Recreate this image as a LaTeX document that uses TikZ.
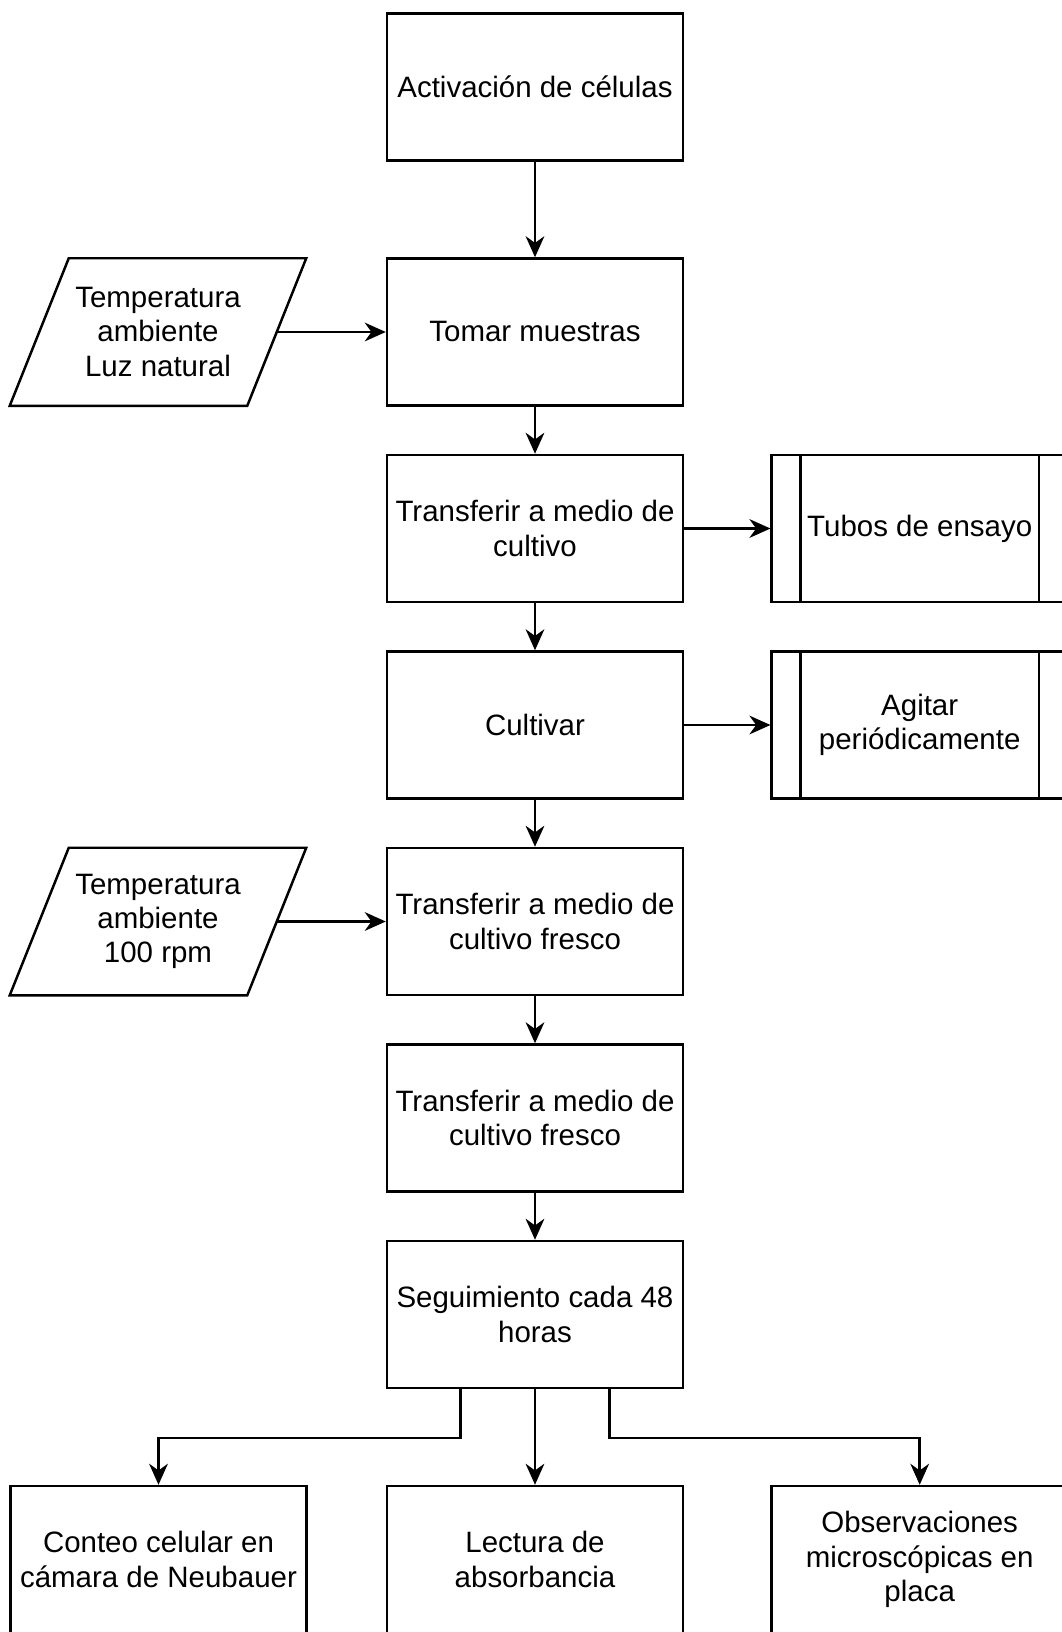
\documentclass[tikz,border=0pt]{standalone}
\usepackage{fontspec}
\setmainfont{Liberation Sans}
\usetikzlibrary{arrows.meta,calc}
\begin{document}
\begin{tikzpicture}[x=0.75pt,y=-0.75pt,
  every node/.style={font=\fontsize{22.1pt}{25.8pt}\selectfont, align=center, inner sep=0pt},
  box/.style={draw, line width=1.85pt, rectangle, minimum width=222pt, minimum height=110.25pt},
  iotext/.style={rectangle, minimum width=222pt, minimum height=110.25pt},
  arr/.style={line width=1.85pt, -{Stealth[length=15.75pt,width=14pt,inset=5pt]}},
  bar/.style={line width=1.85pt, line join=miter},
]
\useasboundingbox (0,0) rectangle (1061,1632);
\fill[white] (0,0) rectangle (1061,1632);

% main column
\node[box] (a) at (535,87) {Activación de células};
\node[box] (b) at (535,332) {Tomar muestras};
\node[box] (c) at (535,528.5) {Transferir a medio de\\cultivo};
\node[box] (d) at (535,725) {Cultivar};
\node[box] (e) at (535,921.5) {Transferir a medio de\\cultivo fresco};
\node[box] (f) at (535,1118) {Transferir a medio de\\cultivo fresco};
\node[box] (g) at (535,1314.5) {Seguimiento cada 48\\horas};

% inputs (parallelograms)
\node[iotext] (p1) at (158,332) {Temperatura\\ambiente\\Luz natural};
\node[iotext] (p2) at (158,921.5) {Temperatura\\ambiente\\100 rpm};
\foreach \n in {p1,p2}{
  \draw[bar] (\n.south west) -- ($(\n.north west)+(59,0)$) -- (\n.north east)
    -- ($(\n.south east)+(-59,0)$) -- cycle;
  \coordinate (\n-out) at ($(\n.east)+(-29.5,0)$);
}

% subprocesses
\node[box] (t1) at (919.7,528.5) {Tubos de ensayo};
\node[box] (t2) at (919.7,725) {Agitar\\periódicamente};
\foreach \n in {t1,t2}{
  \draw[bar] ($(\n.north west)+(30,0)$) -- ($(\n.south west)+(30,0)$);
  \draw[bar] ($(\n.north east)+(-30,0)$) -- ($(\n.south east)+(-30,0)$);
}

% bottom row
\node[box] (h1) at (158.5,1559.5) {Conteo celular en\\cámara de Neubauer};
\node[box] (h2) at (535,1559.5) {Lectura de\\absorbancia};
\node[box] (h3) at (919.7,1559.5) {Observaciones\\microscópicas en\\placa};

% connectors
\draw[arr] (a) -- (b);
\draw[arr] (b) -- (c);
\draw[arr] (c) -- (d);
\draw[arr] (d) -- (e);
\draw[arr] (e) -- (f);
\draw[arr] (f) -- (g);
\draw[arr] (p1-out) -- (b.west);
\draw[arr] (p2-out) -- (e.west);
\draw[arr] (c.east) -- (t1.west);
\draw[arr] (d.east) -- (t2.west);
\draw[arr] (g) -- (h2);
\draw[arr] ($(g.south west)!0.25!(g.south east)$) -- ++(0,48.5) -| (h1.north);
\draw[arr] ($(g.south west)!0.75!(g.south east)$) -- ++(0,48.5) -| (h3.north);
\end{tikzpicture}
\end{document}
